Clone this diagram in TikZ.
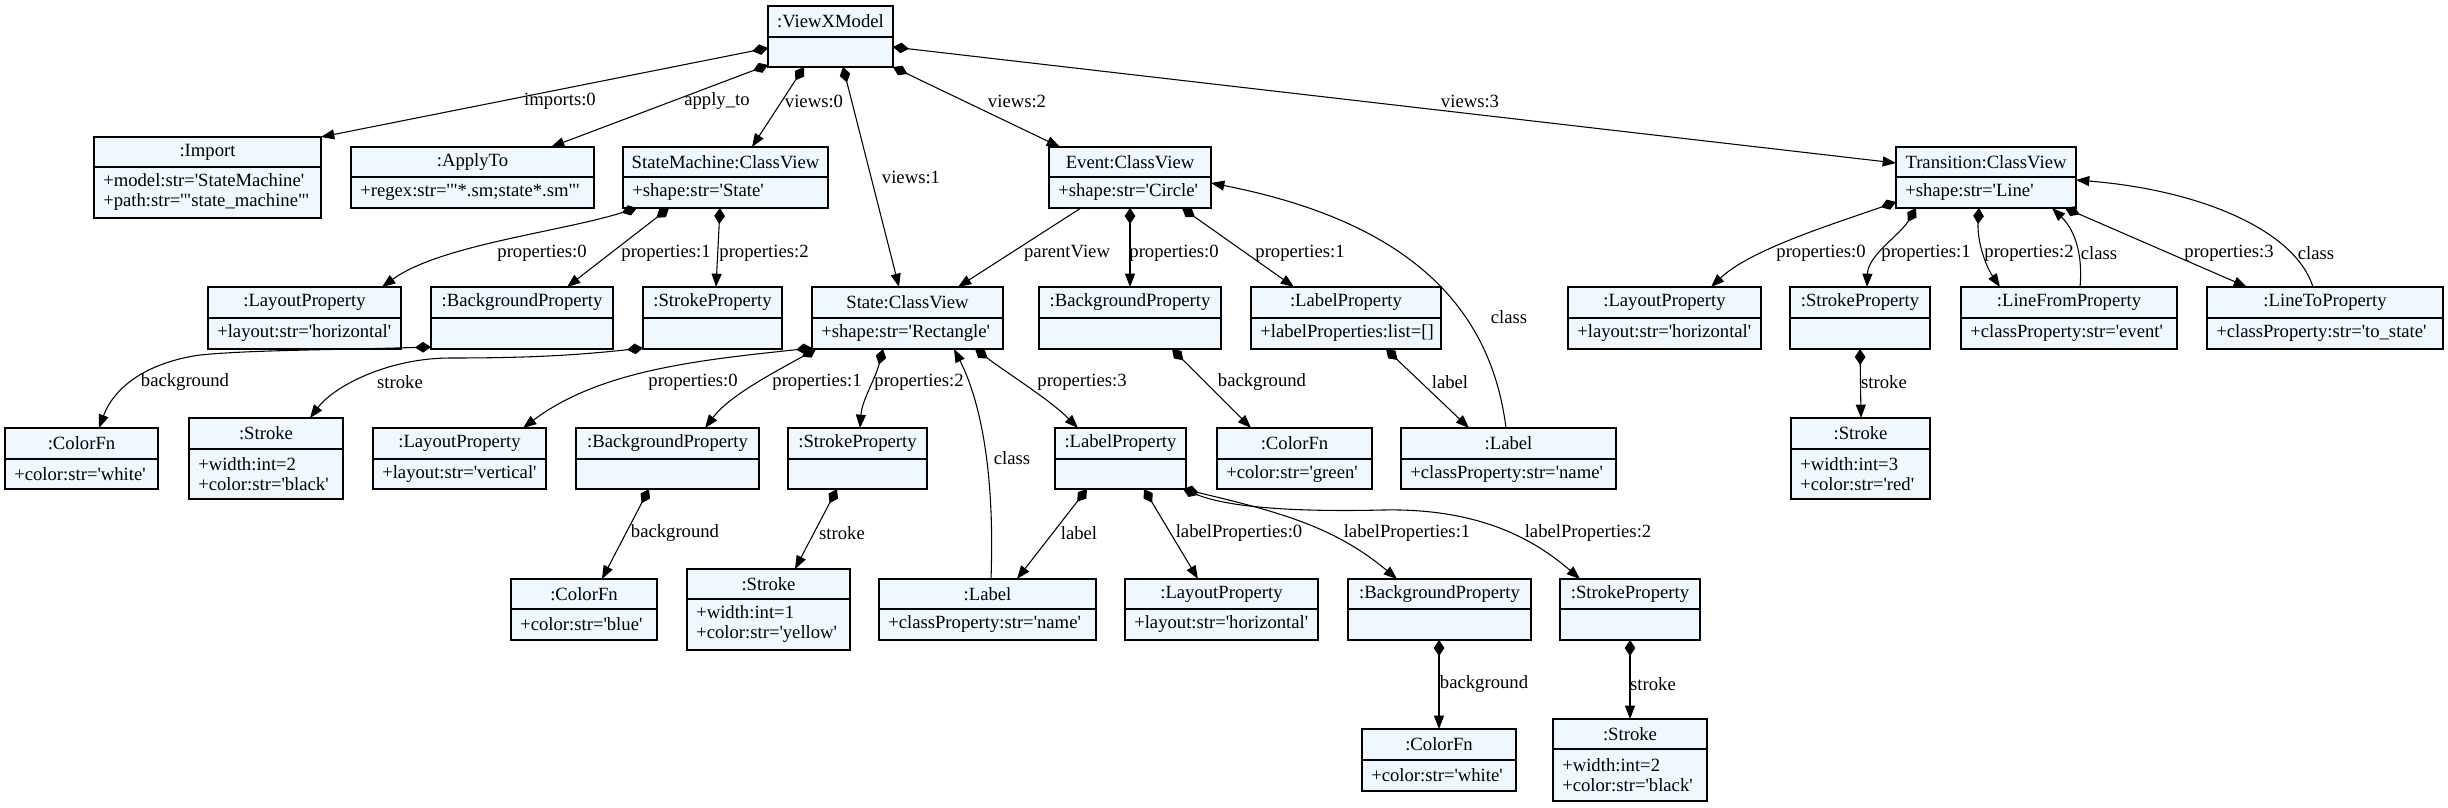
\documentclass[tikz,border=0pt]{standalone}
\usepackage{fontspec}
\setmainfont{Liberation Serif}[Ligatures=TeXOff]
\usetikzlibrary{arrows.meta,fit,calc}
\definecolor{boxfill}{HTML}{F0F8FF}
\tikzset{
  box/.style={draw=black, line width=1pt, fill=boxfill, inner sep=0pt, outer sep=0pt},
  divider/.style={draw=black, line width=1pt},
  ttl/.style={inner sep=0pt, font=\fontsize{14}{15}\selectfont},
  attr/.style={inner sep=0pt, anchor=west, align=left, font=\fontsize{14}{15}\selectfont},
  lbl/.style={inner sep=0pt, font=\fontsize{14}{15}\selectfont},
  conn/.style={line width=0.8pt, draw=black},
  comp/.style={conn, {Diamond[length=12pt,width=8pt]}-{Triangle[length=10pt,width=7.5pt]}},
  ref/.style={conn, -{Triangle[length=10pt,width=7.5pt]}},
}
% name, x1, y1, x2, ydiv, y2, title, attrs
\newcommand\umlbox[8]{%
  \node[box, fit={(#2,#3) (#4,#6)}] (#1) {};
  \draw[divider] (#2,#5) -- (#4,#5);
  \node[ttl] (#1-t) at ({(#2+#4)/2},{(#3+#5)/2}) {#7};
  \if\relax\detokenize{#8}\relax\else
  \node[attr] (#1-a) at ({#2+9},{(#5+#6)/2}) {#8};
  \fi
}
\begin{document}
\begin{tikzpicture}[x=0.75pt,y=-0.75pt]
\useasboundingbox (0,0) rectangle (2448,807);
% row 0
\umlbox{vx}{768}{6}{893}{37}{67}{:ViewXModel}{}
% row 1
\umlbox{imp}{94}{137}{321}{167}{218}{:Import}{+model:str='StateMachine'\\+path:str='"state\_machine"'}
\umlbox{app}{351}{147}{594}{177}{208}{:ApplyTo}{+regex:str='"*.sm;state*.sm"'}
\umlbox{smcv}{623}{147}{828}{177}{208}{StateMachine:ClassView}{+shape:str='State'}
\umlbox{evcv}{1049}{147}{1211}{177}{208}{Event:ClassView}{+shape:str='Circle'}
\umlbox{trcv}{1896}{147}{2076}{177}{208}{Transition:ClassView}{+shape:str='Line'}
% row 2
\umlbox{smlp}{208}{287}{401}{318}{349}{:LayoutProperty}{+layout:str='horizontal'}
\umlbox{smbp}{431}{287}{613}{318}{349}{:BackgroundProperty}{}
\umlbox{smsp}{643}{287}{782}{318}{349}{:StrokeProperty}{}
\umlbox{stcv}{812}{287}{1003}{318}{349}{State:ClassView}{+shape:str='Rectangle'}
\umlbox{evbp}{1039}{287}{1221}{318}{349}{:BackgroundProperty}{}
\umlbox{evlp}{1251}{287}{1441}{318}{349}{:LabelProperty}{+labelProperties:list=[]}
\umlbox{trlp}{1568}{287}{1761}{318}{349}{:LayoutProperty}{+layout:str='horizontal'}
\umlbox{trsp}{1790}{287}{1930}{318}{349}{:StrokeProperty}{}
\umlbox{lfp}{1961}{287}{2177}{318}{349}{:LineFromProperty}{+classProperty:str='event'}
\umlbox{ltp}{2207}{287}{2443}{318}{349}{:LineToProperty}{+classProperty:str='to\_state'}
% row 3
\umlbox{cfw}{5}{428}{158}{459}{489}{:ColorFn}{+color:str='white'}
\umlbox{stk2}{189}{418}{343}{449}{499}{:Stroke}{+width:int=2\\+color:str='black'}
\umlbox{stlp}{373}{428}{546}{459}{489}{:LayoutProperty}{+layout:str='vertical'}
\umlbox{stbp}{576}{428}{759}{459}{489}{:BackgroundProperty}{}
\umlbox{stsp}{788}{428}{927}{459}{489}{:StrokeProperty}{}
\umlbox{stlbp}{1055}{428}{1186}{459}{489}{:LabelProperty}{}
\umlbox{cfg}{1217}{428}{1372}{459}{489}{:ColorFn}{+color:str='green'}
\umlbox{evlab}{1401}{428}{1616}{459}{489}{:Label}{+classProperty:str='name'}
\umlbox{trstk}{1791}{418}{1930}{449}{499}{:Stroke}{+width:int=3\\+color:str='red'}
% row 4
\umlbox{cfb}{511}{579}{657}{609}{640}{:ColorFn}{+color:str='blue'}
\umlbox{stk1}{687}{569}{850}{599}{650}{:Stroke}{+width:int=1\\+color:str='yellow'}
\umlbox{stlab}{879}{579}{1096}{609}{640}{:Label}{+classProperty:str='name'}
\umlbox{lp0}{1125}{579}{1318}{609}{640}{:LayoutProperty}{+layout:str='horizontal'}
\umlbox{lp1}{1348}{579}{1531}{609}{640}{:BackgroundProperty}{}
\umlbox{lp2}{1560}{579}{1700}{609}{640}{:StrokeProperty}{}
% row 5
\umlbox{cfw2}{1362}{729}{1516}{760}{791}{:ColorFn}{+color:str='white'}
\umlbox{stk3}{1553}{719}{1707}{749}{801}{:Stroke}{+width:int=2\\+color:str='black'}

% ---- connectors ----
% ViewXModel
\draw[comp] ($(vx.north west)+(0,42)$) -- (imp.north east);
\draw[comp] ($(vx.south west)+(0,-2)$) -- ($(app.north west)+(200,0)$);
\draw[comp] ($(vx.south west)+(36,0)$) -- ($(smcv.north west)+(129,0)$);
\draw[comp] ($(vx.south west)+(75,0)$) -- ($(stcv.north west)+(87,0)$);
\draw[comp] (vx.south east) -- ($(evcv.north west)+(11,0)$);
\draw[comp] ($(vx.north east)+(0,41)$) -- ($(trcv.north west)+(0,16)$);
% StateMachine
\draw[comp] ($(smcv.south west)+(14,0)$) .. controls (560,232) and (440,245) .. ($(smlp.north west)+(174,0)$);
\draw[comp] ($(smcv.south west)+(46,0)$) -- ($(smbp.north west)+(136,0)$);
\draw[comp] ($(smcv.south west)+(97,0)$) -- ($(smsp.north west)+(73,0)$);
\draw[comp] ($(smbp.south west)+(0,-2)$) .. controls (330,350) and (250,350) .. (200,355) .. controls (150,362) and (115,385) .. ($(cfw.north west)+(94,0)$);
\draw[comp] ($(smsp.south west)+(0,-1)$) .. controls (570,356) and (520,358) .. (450,358) .. controls (390,358) and (335,385) .. ($(stk2.north west)+(121,0)$);
% State
\draw[comp] ($(stcv.south west)+(0,-1)$) .. controls (700,360) and (600,370) .. ($(stlp.north west)+(150,0)$);
\draw[comp] ($(stcv.south west)+(4,0)$) .. controls (775,372) and (730,395) .. ($(stbp.north west)+(129,0)$);
\draw[comp] ($(stcv.south west)+(71,0)$) .. controls (875,380) and (862,400) .. ($(stsp.north west)+(72,0)$);
\draw[comp] ($(stcv.south west)+(163,0)$) .. controls (1010,375) and (1050,400) .. ($(stlbp.north west)+(23,0)$);
\draw[ref] ($(stlab.north west)+(112,0)$) .. controls (995,470) and (980,400) .. ($(stcv.south west)+(142,0)$);
% Event
\draw[ref] ($(evcv.south west)+(32,0)$) -- ($(stcv.north west)+(146,0)$);
\draw[comp] ($(evcv.south west)+(81,0)$) -- ($(evbp.north west)+(91,0)$);
\draw[comp] ($(evcv.south west)+(133,0)$) -- ($(evlp.north west)+(43,0)$);
\draw[ref] ($(evlab.north west)+(105,0)$) .. controls (1490,300) and (1400,220) .. ($(evcv.north east)+(0,36)$);
\draw[comp] ($(evbp.south west)+(133,0)$) -- ($(cfg.north west)+(34,0)$);
\draw[comp] ($(evlp.south west)+(135,0)$) -- ($(evlab.north west)+(68,0)$);
% Transition
\draw[comp] ($(trcv.south west)+(0,-6)$) .. controls (1830,225) and (1750,250) .. ($(trlp.north west)+(143,0)$);
\draw[comp] ($(trcv.south west)+(20,0)$) .. controls (1900,235) and (1868,255) .. ($(trsp.north west)+(77,0)$);
\draw[comp] ($(trcv.south west)+(83,0)$) .. controls (1977,240) and (1985,265) .. ($(lfp.north west)+(39,0)$);
\draw[ref] ($(lfp.north west)+(119,0)$) .. controls (2083,255) and (2075,230) .. ($(trcv.south west)+(156,0)$);
\draw[comp] ($(trcv.south east)+(-11,0)$) -- ($(ltp.north west)+(40,0)$);
\draw[ref] ($(ltp.north west)+(106,0)$) .. controls (2295,230) and (2200,190) .. ($(trcv.north east)+(0,33)$);
\draw[comp] ($(trsp.south west)+(70,0)$) -- ($(trstk.north west)+(70,0)$);
% row 3 -> 4
\draw[comp] ($(stbp.south west)+(73,0)$) -- ($(cfb.north west)+(91,0)$);
\draw[comp] ($(stsp.south west)+(49,0)$) -- ($(stk1.north west)+(108,0)$);
\draw[comp] ($(stlbp.south west)+(32,0)$) -- ($(stlab.north west)+(138,0)$);
\draw[comp] ($(stlbp.south west)+(89,0)$) -- ($(lp0.north west)+(73,0)$);
\draw[comp] ($(stlbp.south east)+(-3,0)$) .. controls (1280,512) and (1335,527) .. ($(lp1.north west)+(49,0)$);
\draw[comp] ($(stlbp.south east)+(-3,0)$) .. controls (1230,508) and (1300,512) .. (1383,510) .. controls (1480,508) and (1535,540) .. ($(lp2.north west)+(20,0)$);
% row 4 -> 5
\draw[comp] ($(lp1.south west)+(91,0)$) -- ($(cfw2.north west)+(77,0)$);
\draw[comp] ($(lp2.south west)+(70,0)$) -- ($(stk3.north west)+(77,0)$);

% ---- labels ----
\node[lbl] (l1) at (560,101) {imports:0};
\node[lbl] (l2) at (717,101) {apply\_to};
\node[lbl] (l3) at (814,101) {views:0};
\node[lbl] (l4) at (911,177) {views:1};
\node[lbl] (l5) at (1017,101) {views:2};
\node[lbl] (l6) at (1470,101) {views:3};
\node[lbl] (l7) at (542,253) {properties:0};
\node[lbl] (l8) at (666,253) {properties:1};
\node[lbl] (l9) at (764,253) {properties:2};
\node[lbl] (l10) at (1067,253) {parentView};
\node[lbl] (l11) at (1174,253) {properties:0};
\node[lbl] (l12) at (1300,253) {properties:1};
\node[lbl] (l13) at (1509,317) {class};
\node[lbl] (l14) at (1821,253) {properties:0};
\node[lbl] (l15) at (1926,253) {properties:1};
\node[lbl] (l16) at (2029,253) {properties:2};
\node[lbl] (l17) at (2099,253) {class};
\node[lbl] (l18) at (2229,253) {properties:3};
\node[lbl] (l19) at (2316,253) {class};
\node[lbl] (l20) at (185,382) {background};
\node[lbl] (l21) at (400,382) {stroke};
\node[lbl] (l22) at (693,382) {properties:0};
\node[lbl] (l23) at (817,382) {properties:1};
\node[lbl] (l24) at (919,382) {properties:2};
\node[lbl] (l25) at (1082,382) {properties:3};
\node[lbl] (l26) at (1262,382) {background};
\node[lbl] (l27) at (1450,382) {label};
\node[lbl] (l28) at (1884,382) {stroke};
\node[lbl] (l29) at (1012,458) {class};
\node[lbl] (l30) at (675,533) {background};
\node[lbl] (l31) at (842,533) {stroke};
\node[lbl] (l32) at (1079,533) {label};
\node[lbl] (l33) at (1239,533) {labelProperties:0};
\node[lbl] (l34) at (1407,533) {labelProperties:1};
\node[lbl] (l35) at (1588,533) {labelProperties:2};
\node[lbl] (l36) at (1484,684) {background};
\node[lbl] (l37) at (1653,684) {stroke};
\end{tikzpicture}
\end{document}
